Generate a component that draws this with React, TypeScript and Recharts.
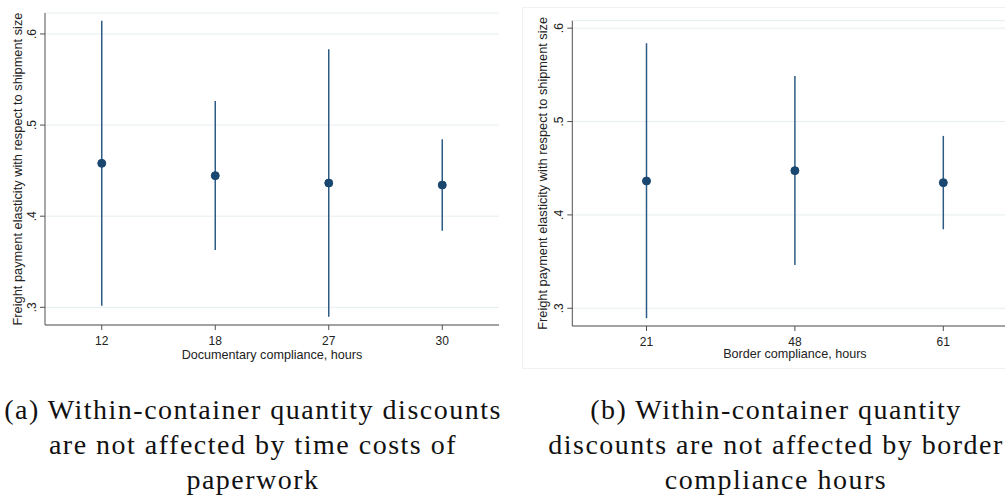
import React from "react";
import { ComposedChart, Line, ErrorBar, XAxis, YAxis, CartesianGrid } from "recharts";

// point estimates with 95% intervals
const docHours = ["12", "18", "27", "30"];
const docEst = [0.458, 0.4445, 0.4364, 0.4342];
const docLow = [0.3018, 0.3629, 0.2897, 0.3841];
const docHigh = [0.6146, 0.5265, 0.5832, 0.4844];

const borderHours = ["21", "48", "61"];
const borderEst = [0.4363, 0.4474, 0.4345];
const borderLow = [0.2893, 0.3463, 0.3846];
const borderHigh = [0.5839, 0.5489, 0.4846];

const yTicks = [0.3, 0.4, 0.5, 0.6];
const yTitle = "Freight payment elasticity with respect to shipment size";

const FONT = '"Liberation Sans", Arial, Helvetica, sans-serif';
const SERIF = '"Liberation Serif", "DejaVu Serif", serif';
const NAVY = "#1a476f";
const LINE = "#2c5b86";
const AXIS = "#505050";

function rows(cats: string[], est: number[], lo: number[], hi: number[]) {
  return cats.map((c, i) => ({
    x: c,
    est: est[i],
    err: [est[i] - lo[i], hi[i] - est[i]],
  }));
}

const fmt = (v: number) => v.toFixed(1).replace(/^0/, "");

function YTick(props: any) {
  const { x, y, payload } = props;
  return (
    <text
      x={x}
      y={y}
      transform={`rotate(-90 ${x} ${y})`}
      textAnchor="middle"
      fontSize={12}
      fontFamily={FONT}
      fill="#222"
    >
      {fmt(payload.value)}
    </text>
  );
}

function Panel({
  data,
  xTitle,
  width,
  yAxisWidth,
  top,
  bottomAxis,
  domain,
  yTitleX,
  xTitleDy,
}: {
  data: any[];
  xTitle: string;
  width: number;
  yAxisWidth: number;
  top: number;
  bottomAxis: number;
  domain: [number, number];
  yTitleX: number;
  xTitleDy: number;
}) {
  return (
    <ComposedChart
      width={width}
      height={370}
      data={data}
      margin={{ top, right: 6, bottom: 0, left: 0 }}
    >
      <CartesianGrid horizontal vertical={false} stroke="#e6eef0" strokeWidth={1} />
      <XAxis
        dataKey="x"
        type="category"
        scale="band"
        height={bottomAxis}
        stroke={AXIS}
        tickSize={5}
        tickMargin={6}
        tick={{ fill: "#222", fontSize: 12, fontFamily: FONT }}
        label={{
          content: (p: any) => {
            const vb = p.viewBox || {};
            return (
              <text
                x={(vb.x ?? 0) + (vb.width ?? 0) / 2}
                y={(vb.y ?? 0) + xTitleDy}
                textAnchor="middle"
                fontSize={12.6}
                fontFamily={FONT}
                fill="#222"
              >
                {xTitle}
              </text>
            );
          },
        }}
      />
      <YAxis
        type="number"
        domain={domain}
        allowDataOverflow
        ticks={yTicks}
        width={yAxisWidth}
        stroke={AXIS}
        tickSize={5}
        tickMargin={4}
        tick={<YTick />}
        label={{
          content: (p: any) => {
            const vb = p.viewBox || {};
            const cy = (vb.y ?? 0) + (vb.height ?? 0) / 2;
            return (
              <text
                x={yTitleX}
                y={cy}
                transform={`rotate(-90 ${yTitleX} ${cy})`}
                textAnchor="middle"
                fontSize={12.8}
                fontFamily={FONT}
                fill="#222"
              >
                {yTitle}
              </text>
            );
          },
        }}
      />
      <Line
        dataKey="est"
        stroke="none"
        isAnimationActive={false}
        dot={{ r: 4, fill: NAVY, stroke: NAVY, strokeWidth: 1 }}
        activeDot={false}
      >
        <ErrorBar
          dataKey="err"
          direction="y"
          width={0}
          stroke={LINE}
          strokeWidth={1.5}
          isAnimationActive={false}
        />
      </Line>
    </ComposedChart>
  );
}

const captionStyle: React.CSSProperties = {
  position: "absolute",
  top: 392,
  textAlign: "center",
  fontFamily: SERIF,
  fontSize: 28,
  letterSpacing: 1.5,
  lineHeight: "35px",
  color: "#111",
  whiteSpace: "nowrap",
};

export default function App() {
  const docData = rows(docHours, docEst, docLow, docHigh);
  const borderData = rows(borderHours, borderEst, borderLow, borderHigh);
  return (
    <div
      style={{
        position: "absolute",
        left: 0,
        top: 0,
        width: 1005,
        height: 498,
        overflow: "hidden",
        background: "#fff",
      }}
    >
      <div style={{ position: "absolute", left: 0, top: 0 }}>
        <Panel
          data={docData}
          xTitle="Documentary compliance, hours"
          width={505}
          yAxisWidth={45}
          top={13}
          bottomAxis={45}
          domain={[0.2806, 0.623]}
          yTitleX={22}
          xTitleDy={34}
        />
      </div>
      <div
        style={{
          position: "absolute",
          left: 522,
          top: 7,
          width: 500,
          height: 360,
          border: "1px solid #eef1f3",
        }}
      />
      <div style={{ position: "absolute", left: 500, top: 0 }}>
        <Panel
          data={borderData}
          xTitle="Border compliance, hours"
          width={523.5}
          yAxisWidth={72.3}
          top={20.7}
          bottomAxis={44}
          domain={[0.281, 0.608]}
          yTitleX={47}
          xTitleDy={32}
        />
      </div>
      <div style={{ ...captionStyle, left: 0, width: 506 }}>
        <div>(a) Within-container quantity discounts</div>
        <div>are not affected by time costs of</div>
        <div>paperwork</div>
      </div>
      <div style={{ ...captionStyle, left: 548, width: 456 }}>
        <div>(b) Within-container quantity</div>
        <div>discounts are not affected by border</div>
        <div>compliance hours</div>
      </div>
    </div>
  );
}
